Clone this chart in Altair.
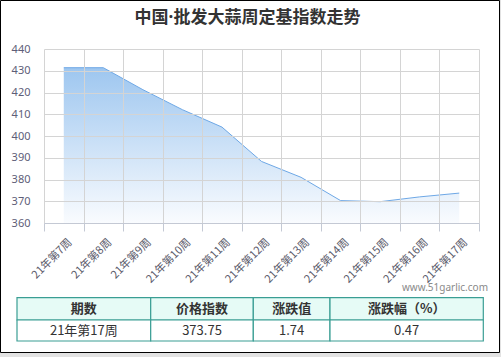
import altair as alt
import pandas as pd

# ---------------- data ----------------
weeks = ["21年第7周", "21年第8周", "21年第9周", "21年第10周", "21年第11周", "21年第12周",
         "21年第13周", "21年第14周", "21年第15周", "21年第16周", "21年第17周"]
index_values = [431.4, 431.4, 421.3, 412.1, 404.1, 388.3, 381.0, 370.3, 369.8, 372.01, 373.75]
y_ticks = [360, 370, 380, 390, 400, 410, 420, 430, 440]
table_headers = ["期数", "价格指数", "涨跌值", "涨跌幅（%）"]
table_row = ["21年第17周", "373.75", "1.74", "0.47"]
title_text = "中国·批发大蒜周定基指数走势"
source_text = "www.51garlic.com"

# ---------------- layout ----------------
W, H = 501, 357
PL, PT, PW, PH = 44, 49, 435, 174
col_edges = [17, 150.7, 253.3, 330, 483.3]
row_edges = [297.7, 320, 341]
FONT = "Noto Sans CJK SC"
MIXFONT = "Noto Sans, Noto Sans CJK SC"
TEAL = "#3a9e94"

df = pd.DataFrame({"week": weeks, "value": index_values})

xs = alt.Scale(type="band", domain=weeks, paddingInner=0, paddingOuter=0)
ys = alt.Scale(domain=[360, 440], zero=False, nice=False)

area = alt.Chart(df).mark_area(
    line={"color": "#6ea8e6", "strokeWidth": 1},
    color=alt.Gradient(
        gradient="linear",
        stops=[alt.GradientStop(color="#74aee9", offset=0),
               alt.GradientStop(color="#f7fafe", offset=1)],
        x1=1, x2=1, y1=0, y2=1),
).encode(
    x=alt.X("week:N", scale=xs, sort=weeks, bandPosition=0.5, title=None,
            axis=alt.Axis(labelAngle=-45, labelAlign="right", labelBaseline="top",
                          labelPadding=5, labelOffset=2, labelFontSize=11, labelFont=FONT,
                          labelColor="#5a5a6a", tickBand="extent", ticks=True, tickSize=8,
                          tickColor="#c4c9d4", domainColor="#c4c9d4", grid=True,
                          gridColor="#d4d4d4", labelOverlap=False, zindex=1)),
    y=alt.Y("value:Q", scale=ys, title=None,
            axis=alt.Axis(values=y_ticks, ticks=False, domain=False, grid=True,
                          gridColor="#d4d4d4", labelPadding=14, labelFontSize=11,
                          labelFont="Noto Sans", labelColor="#5e5e78", zindex=1)),
    y2=alt.datum(360),
)

# overlay coordinate system in absolute pixels
ox = alt.Scale(domain=[0, W], range=[-PL, W - PL], nice=False, zero=False)
oy = alt.Scale(domain=[0, H], range=[-PT, H - PT], nice=False, zero=False)

def X(f):
    return alt.X(f, scale=ox, axis=None)

def Y(f):
    return alt.Y(f, scale=oy, axis=None)

# frame + gray strips
strips = pd.DataFrame({"x0": [0, 499.5], "x1": [W, W], "y0": [352.5, 0], "y1": [H, H]})
strip_layer = alt.Chart(strips).mark_rect(color="#e2e2e2").encode(
    x=X("x0:Q"), x2="x1", y=Y("y0:Q"), y2="y1")
frame = pd.DataFrame({"x0": [0.5], "x1": [499.5], "y0": [0.5], "y1": [352.5]})
frame_layer = alt.Chart(frame).mark_rect(filled=False, stroke="#000000", strokeWidth=1).encode(
    x=X("x0:Q"), x2="x1", y=Y("y0:Q"), y2="y1")

# title
title_df = pd.DataFrame({"t": [title_text], "x": [W / 2 - 3], "y": [18]})
title_layer = alt.Chart(title_df).mark_text(
    font=MIXFONT, fontSize=17, fontWeight="bold", color="#333333", align="center", baseline="middle"
).encode(x=X("x:Q"), y=Y("y:Q"), text="t:N")

# source watermark
src_df = pd.DataFrame({"t": [source_text], "x": [488], "y": [288]})
src_layer = alt.Chart(src_df).mark_text(
    font="Noto Sans", fontSize=10, color="#8a8a8a", align="right", baseline="middle"
).encode(x=X("x:Q"), y=Y("y:Q"), text="t:N")

# table
cells = []
for r, texts in enumerate([table_headers, table_row]):
    for c, t in enumerate(texts):
        cells.append({
            "x0": col_edges[c], "x1": col_edges[c + 1],
            "y0": row_edges[r], "y1": row_edges[r + 1],
            "cx": (col_edges[c] + col_edges[c + 1]) / 2,
            "cy": (row_edges[r] + row_edges[r + 1]) / 2,
            "t": t, "row": "header" if r == 0 else "data",
        })
cells_df = pd.DataFrame(cells)
cell_rects = alt.Chart(cells_df).mark_rect(stroke=TEAL, strokeWidth=1.2).encode(
    x=X("x0:Q"), x2="x1", y=Y("y0:Q"), y2="y1",
    fill=alt.Fill("row:N", scale=alt.Scale(domain=["header", "data"], range=["#e6fbf6", "#ffffff"]),
                  legend=None))
header_text = alt.Chart(cells_df[cells_df.row == "header"]).mark_text(
    font=FONT, fontSize=13, fontWeight="bold", color="#333333", align="center", baseline="middle"
).encode(x=X("cx:Q"), y=Y("cy:Q"), text="t:N")
data_text = alt.Chart(cells_df[cells_df.row == "data"]).mark_text(
    font=FONT, fontSize=13, color="#333333", align="center", baseline="middle"
).encode(x=X("cx:Q"), y=Y("cy:Q"), text="t:N")

chart = alt.layer(
    strip_layer, frame_layer, area, title_layer, src_layer, cell_rects, header_text, data_text
).resolve_scale(
    x="independent", y="independent", fill="independent"
).properties(
    width=PW, height=PH, autosize=alt.AutoSizeParams(type="none"),
    padding={"left": PL, "top": PT, "right": W - PL - PW, "bottom": H - PT - PH},
    background="#ffffff",
).configure_view(stroke=None)

chart.save("out.html", embed_options={"renderer": "svg", "actions": False})
